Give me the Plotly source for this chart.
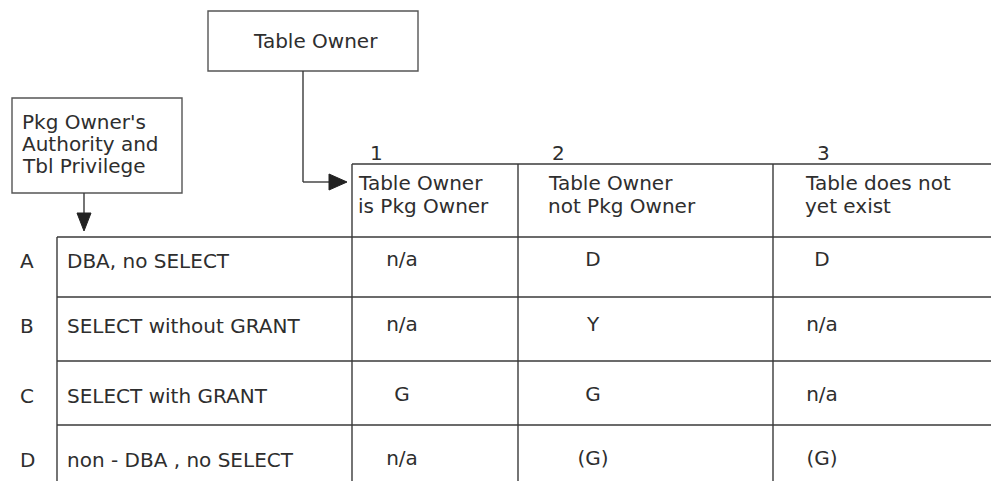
import plotly.graph_objects as go

# ---------------- data ----------------
row_keys = ["A", "B", "C", "D"]
row_labels = ["DBA, no SELECT", "SELECT without GRANT", "SELECT with GRANT", "non - DBA , no SELECT"]
col_numbers = ["1", "2", "3"]
col_headers = [
    ["Table Owner", "is Pkg Owner"],
    ["Table Owner", "not Pkg Owner"],
    ["Table does not", "yet exist"],
]
col1_values = ["n/a", "n/a", "G", "n/a"]
col2_values = ["D", "Y", "G", "(G)"]
col3_values = ["D", "n/a", "n/a", "(G)"]
top_box_text = ["Table Owner"]
side_box_text = ["Pkg Owner's", "Authority and", "Tbl Privilege"]

# ---------------- geometry (page pixels) ----------------
W, H = 991, 481
FONT = "DejaVu Sans"
FS = 20
TXT = "#2e2e2e"
LINE = "#3a3a3a"

label_left = 57
col_lefts = [352, 518, 773]
table_right = W + 5
header_top = 164
row_tops = [237, 297, 361, 425]
bottom = H + 5
row_text_y = [261, 326, 396, 460]
val_x = [402, 593, 822]
num_x = [376, 558, 823]
num_y = 153
head_x = [358, 548, 805]
head_y = [183, 206]

top_box = dict(x0=208, y0=11, x1=418, y1=71)
side_box = dict(x0=12, y0=98, x1=182, y1=193)

fig = go.Figure()
shapes = []
annots = []


def line(x0, y0, x1, y1, w=1.4):
    shapes.append(dict(type="line", x0=x0, y0=y0, x1=x1, y1=y1, xref="x", yref="y",
                       line=dict(color=LINE, width=w)))


def text(x, y, s, xanchor="left"):
    annots.append(dict(x=x, y=y, text=s, xref="x", yref="y", showarrow=False,
                       xanchor=xanchor, yanchor="middle",
                       font=dict(family=FONT, size=FS, color=TXT)))


# boxes
for b in (top_box, side_box):
    shapes.append(dict(type="rect", xref="x", yref="y", **b,
                       line=dict(color="#555555", width=1.4), fillcolor="rgba(0,0,0,0)"))

# connector: top box -> column 1 header
ax = 303
line(ax, top_box["y1"], ax, 182)
line(ax, 182, 331, 182)
shapes.append(dict(type="path", xref="x", yref="y",
                   path="M 329 174 L 347 182 L 329 190 Z",
                   fillcolor="#222222", line=dict(color="#222222", width=1)))

# connector: side box -> row labels
bx = 84
line(bx, side_box["y1"], bx, 215)
shapes.append(dict(type="path", xref="x", yref="y",
                   path="M 77 213 L 91 213 L 84 231 Z",
                   fillcolor="#222222", line=dict(color="#222222", width=1)))

# table grid
line(col_lefts[0], header_top, table_right, header_top)
for yt in row_tops:
    line(label_left, yt, table_right, yt)
line(label_left, row_tops[0], label_left, bottom)
for xl in col_lefts:
    line(xl, header_top, xl, bottom)

# box texts
text((top_box["x0"] + top_box["x1"]) / 2 + 2, 41, top_box_text[0], xanchor="center")
for i, s in enumerate(side_box_text):
    text(20, [122, 144, 166][i], s)

# column numbers and headers
for j in range(3):
    text(num_x[j], num_y, col_numbers[j], xanchor="center")
    for k, s in enumerate(col_headers[j]):
        text(head_x[j] - 2, head_y[k], s)

# row keys and labels
for i in range(4):
    text(27, row_text_y[i], row_keys[i], xanchor="center")
    text(65, row_text_y[i], row_labels[i])

# cell values
for j, vals in enumerate([col1_values, col2_values, col3_values]):
    fig.add_trace(go.Scatter(
        x=[val_x[j]] * len(vals), y=row_text_y, text=vals, mode="text",
        textposition="middle center", hoverinfo="skip", showlegend=False,
        textfont=dict(family=FONT, size=FS, color=TXT)))

fig.update_layout(
    width=W, height=H,
    margin=dict(l=0, r=0, t=0, b=0),
    paper_bgcolor="white", plot_bgcolor="white",
    xaxis=dict(range=[0, W], visible=False, fixedrange=True),
    yaxis=dict(range=[H, 0], visible=False, fixedrange=True),
    shapes=shapes, annotations=annots, showlegend=False,
)

fig.write_html(
    "out.html",
    config={"displayModeBar": False},
    post_script="document.body.style.margin='0';document.body.style.overflow='hidden';"
                "document.documentElement.style.overflow='hidden';",
)
